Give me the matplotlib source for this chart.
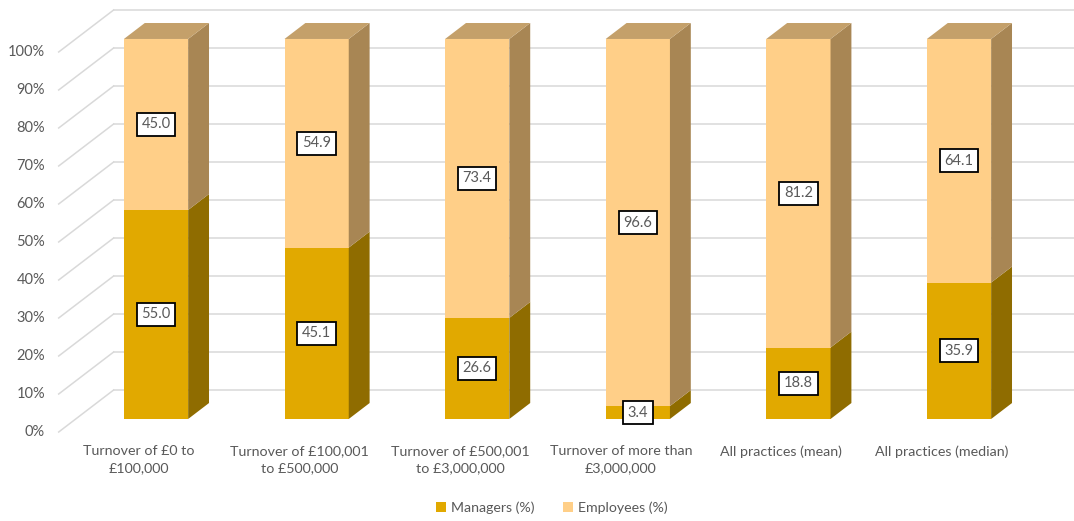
import matplotlib
matplotlib.use("Agg")
import matplotlib.pyplot as plt
from matplotlib.patches import Polygon, Patch

categories = [
    "Turnover of £0 to\n£100,000",
    "Turnover of £100,001\nto £500,000",
    "Turnover of £500,001\nto £3,000,000",
    "Turnover of more than\n£3,000,000",
    "All practices (mean)",
    "All practices (median)",
]
managers = [55.0, 45.1, 26.6, 3.4, 18.8, 35.9]
employees = [45.0, 54.9, 73.4, 96.6, 81.2, 64.1]
y_ticks = [0, 10, 20, 30, 40, 50, 60, 70, 80, 90, 100]

plt.rcParams["font.family"] = ["Lato", "DejaVu Sans"]
TEXT = "#595959"
GRID = "#D9D9D9"

# face colours: front, side, top
MAN = ("#E1A900", "#8F6C00", "#B38600")
EMP = ("#FFCF88", "#A88654", "#C4A06A")

# oblique projection: one unit of depth shifts by (OX categories, OY percent)
OX, OY = 0.342, 11.05
D_FRONT, D_BACK = 0.31, 0.69
HW = 0.2

fig = plt.figure(figsize=(10.74, 5.21), dpi=100)
ax = fig.add_axes([0, 0, 1, 1])
ax.set_xlim(-0.8655, 5.822)
ax.set_ylim(-23.42, 113.68)
ax.axis("off")

n = len(categories)
left = -0.5

# walls: diagonal lines on the floor/left side, horizontal lines on the back wall
for t in y_ticks:
    ax.plot([left, left + OX], [t, t + OY], color=GRID, lw=1.1, zorder=0)
    ax.plot([left + OX, 5.9], [t + OY, t + OY], color=GRID, lw=1.1, zorder=0)
    ax.text(-0.585, t, f"{t}%", ha="right", va="center", fontsize=10.5, color=TEXT)


def draw_segment(i, base, val, cols, top):
    x0 = i - HW + D_FRONT * OX
    x1 = i + HW + D_FRONT * OX
    yb = base + D_FRONT * OY
    ax.bar(i + D_FRONT * OX, val, bottom=yb, width=2 * HW, color=cols[0],
           edgecolor="none", zorder=3)
    dx = (D_BACK - D_FRONT) * OX
    dy = (D_BACK - D_FRONT) * OY
    side = [(x1, yb), (x1 + dx, yb + dy), (x1 + dx, yb + val + dy), (x1, yb + val)]
    ax.add_patch(Polygon(side, closed=True, facecolor=cols[1], edgecolor="none", zorder=3))
    if top:
        yt = yb + val
        roof = [(x0, yt), (x1, yt), (x1 + dx, yt + dy), (x0 + dx, yt + dy)]
        ax.add_patch(Polygon(roof, closed=True, facecolor=cols[2], edgecolor="none", zorder=3))
    ax.text(i + D_FRONT * OX, yb + val / 2, f"{val:.1f}", ha="center", va="center",
            fontsize=10.5, color=TEXT, zorder=5,
            bbox=dict(boxstyle="square,pad=0.32", facecolor="white",
                      edgecolor="black", linewidth=1.3))


for i in range(n):
    draw_segment(i, 0, managers[i], MAN, top=False)
    draw_segment(i, managers[i], employees[i], EMP, top=True)
    ax.text(i, -3.5, categories[i], ha="center", va="top", fontsize=10.3,
            color=TEXT, linespacing=1.45)

handles = [Patch(facecolor=MAN[0], label="Managers (%)"),
           Patch(facecolor=EMP[0], label="Employees (%)")]
leg = fig.legend(handles=handles, loc="center", bbox_to_anchor=(0.514, 0.026), ncol=2,
                 frameon=False, fontsize=10.2, handlelength=0.7, handleheight=0.7,
                 handletextpad=0.35, columnspacing=2.0)
for t in leg.get_texts():
    t.set_color(TEXT)

fig.savefig("out.png", dpi=100)
